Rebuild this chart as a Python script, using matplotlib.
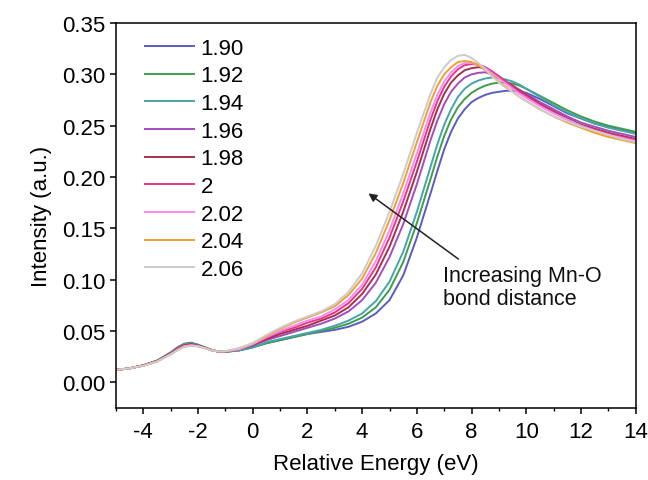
import matplotlib
matplotlib.use("Agg")
import matplotlib.pyplot as plt
from matplotlib.ticker import MultipleLocator, FormatStrFormatter

plt.rcParams['font.family'] = ['Liberation Sans', 'DejaVu Sans']
plt.rcParams['axes.unicode_minus'] = False

# Relative energy grid (eV); denser around the pre-edge and the white line
energy = [-5, -4.5, -4, -3.5, -3, -2.75, -2.5, -2.25, -2, -1.75, -1.5, -1.25, -1,
          -0.5, 0, 0.5, 1, 1.5, 2, 2.5, 3, 3.5, 4, 4.5, 5, 5.5, 6, 6.5,
          6.75, 7, 7.25, 7.5, 7.75, 8, 8.25, 8.5, 8.75, 9, 9.25, 9.5, 9.75, 10,
          10.5, 11, 11.5, 12, 12.5, 13, 13.5, 14]

# Mn-O bond distances (legend labels)
labels = ["1.90", "1.92", "1.94", "1.96", "1.98", "2", "2.02", "2.04", "2.06"]

colors = ["#5b5bc4", "#3d9e4a", "#45a5a8", "#a44cc0", "#a3324c",
          "#e8358a", "#f58cf0", "#f0a030", "#cccccc"]

# Simulated spectra, one per bond distance
i_190 = [0.012, 0.0135, 0.0165, 0.021, 0.029, 0.034, 0.0375, 0.0385, 0.0365, 0.034, 0.0315, 0.0298, 0.0296,
         0.031, 0.034, 0.038, 0.041, 0.044, 0.047, 0.049, 0.051, 0.054, 0.059, 0.067, 0.080, 0.104, 0.141, 0.184,
         0.206, 0.227, 0.244, 0.257, 0.266, 0.273, 0.277, 0.280, 0.282, 0.283, 0.284, 0.284, 0.2835, 0.282,
         0.276, 0.269, 0.262, 0.257, 0.252, 0.249, 0.246, 0.243]
i_192 = [0.012, 0.0135, 0.0165, 0.021, 0.0287, 0.0337, 0.0372, 0.0381, 0.0363, 0.0338, 0.0314, 0.0298, 0.0296,
         0.031, 0.034, 0.038, 0.041, 0.044, 0.047, 0.050, 0.053, 0.057, 0.063, 0.073, 0.090, 0.117, 0.155, 0.198,
         0.220, 0.240, 0.256, 0.268, 0.276, 0.282, 0.286, 0.289, 0.291, 0.292, 0.292, 0.291, 0.289, 0.286,
         0.279, 0.272, 0.265, 0.259, 0.254, 0.250, 0.247, 0.244]
i_194 = [0.012, 0.0135, 0.0164, 0.0208, 0.0284, 0.0334, 0.0368, 0.0377, 0.036, 0.0336, 0.0313, 0.0298, 0.0296,
         0.031, 0.034, 0.039, 0.042, 0.045, 0.048, 0.051, 0.055, 0.060, 0.067, 0.079, 0.098, 0.127, 0.166, 0.210,
         0.232, 0.251, 0.266, 0.278, 0.286, 0.291, 0.294, 0.296, 0.297, 0.2965, 0.295, 0.293, 0.290, 0.286,
         0.278, 0.270, 0.263, 0.257, 0.252, 0.248, 0.245, 0.242]
i_196 = [0.012, 0.0135, 0.0163, 0.0206, 0.0281, 0.033, 0.0363, 0.0372, 0.0357, 0.0335, 0.0312, 0.0298, 0.0297,
         0.032, 0.036, 0.041, 0.045, 0.049, 0.053, 0.057, 0.062, 0.069, 0.080, 0.097, 0.122, 0.154, 0.193, 0.236,
         0.255, 0.271, 0.283, 0.291, 0.297, 0.300, 0.3015, 0.302, 0.300, 0.297, 0.293, 0.289, 0.285, 0.281,
         0.273, 0.266, 0.259, 0.253, 0.249, 0.245, 0.242, 0.239]
i_198 = [0.012, 0.0135, 0.0163, 0.0205, 0.0279, 0.0326, 0.0359, 0.0368, 0.0355, 0.0334, 0.0311, 0.0299, 0.0298,
         0.032, 0.036, 0.042, 0.047, 0.051, 0.055, 0.060, 0.065, 0.073, 0.086, 0.105, 0.132, 0.166, 0.205, 0.247,
         0.266, 0.281, 0.292, 0.299, 0.304, 0.306, 0.307, 0.306, 0.302, 0.298, 0.293, 0.289, 0.284, 0.280,
         0.271, 0.264, 0.257, 0.251, 0.247, 0.243, 0.240, 0.237]
i_200 = [0.012, 0.0135, 0.0162, 0.0204, 0.0276, 0.0322, 0.0354, 0.0364, 0.0353, 0.0333, 0.0311, 0.0299, 0.0299,
         0.032, 0.037, 0.043, 0.049, 0.053, 0.058, 0.062, 0.068, 0.077, 0.091, 0.112, 0.141, 0.176, 0.215, 0.256,
         0.274, 0.288, 0.298, 0.305, 0.309, 0.310, 0.3095, 0.307, 0.303, 0.298, 0.293, 0.288, 0.283, 0.279,
         0.270, 0.263, 0.256, 0.250, 0.246, 0.242, 0.239, 0.236]
i_202 = [0.012, 0.0135, 0.0161, 0.0203, 0.0274, 0.0318, 0.035, 0.036, 0.0351, 0.0332, 0.031, 0.0299, 0.030,
         0.032, 0.037, 0.044, 0.050, 0.055, 0.060, 0.064, 0.071, 0.080, 0.095, 0.118, 0.148, 0.184, 0.223, 0.263,
         0.280, 0.293, 0.302, 0.308, 0.311, 0.311, 0.309, 0.306, 0.301, 0.296, 0.291, 0.286, 0.281, 0.277,
         0.269, 0.262, 0.256, 0.250, 0.245, 0.241, 0.238, 0.235]
i_204 = [0.012, 0.0135, 0.016, 0.0201, 0.0272, 0.0314, 0.0347, 0.0357, 0.035, 0.0331, 0.031, 0.030, 0.0301,
         0.033, 0.038, 0.045, 0.052, 0.058, 0.063, 0.068, 0.074, 0.085, 0.101, 0.126, 0.158, 0.194, 0.234, 0.273,
         0.289, 0.300, 0.307, 0.312, 0.313, 0.312, 0.309, 0.304, 0.299, 0.293, 0.288, 0.283, 0.278, 0.274,
         0.266, 0.259, 0.253, 0.248, 0.243, 0.239, 0.236, 0.233]
i_206 = [0.012, 0.0135, 0.016, 0.020, 0.027, 0.031, 0.0345, 0.0355, 0.035, 0.033, 0.031, 0.030, 0.0302,
         0.033, 0.038, 0.046, 0.053, 0.059, 0.064, 0.069, 0.076, 0.088, 0.106, 0.133, 0.166, 0.203, 0.243, 0.281,
         0.297, 0.307, 0.314, 0.318, 0.319, 0.316, 0.311, 0.305, 0.298, 0.292, 0.287, 0.283, 0.278, 0.274,
         0.266, 0.259, 0.254, 0.249, 0.245, 0.241, 0.237, 0.234]

spectra = [i_190, i_192, i_194, i_196, i_198, i_200, i_202, i_204, i_206]

fig = plt.figure(figsize=(6.48, 4.81), dpi=100)
ax = fig.add_axes([0.179, 0.150, 0.802, 0.800])

for y, lab, c in zip(spectra, labels, colors):
    ax.plot(energy, y, color=c, lw=1.4, label=lab, solid_joinstyle='round')

ax.set_xlim(-5, 14)
ax.set_ylim(-0.025, 0.35)
ax.xaxis.set_major_locator(MultipleLocator(2))
ax.xaxis.set_minor_locator(MultipleLocator(1))
ax.yaxis.set_major_locator(MultipleLocator(0.05))
ax.yaxis.set_major_formatter(FormatStrFormatter('%.2f'))

for s in ax.spines.values():
    s.set_linewidth(1.1)
ax.tick_params(axis='both', which='major', direction='out', length=4.5, width=1.1,
               labelsize=16)
ax.tick_params(axis='x', which='major', pad=5)
ax.tick_params(axis='y', which='major', pad=3)
ax.tick_params(axis='x', which='minor', direction='out', length=2.5, width=1.0)

ax.set_xlabel("Relative Energy (eV)", fontsize=16, labelpad=8)
ax.set_ylabel("Intensity (a.u.)", fontsize=16, labelpad=7)

leg = ax.legend(loc='upper left', bbox_to_anchor=(0.056, 0.962), frameon=False,
                fontsize=16, handlelength=2.2, handletextpad=0.3,
                labelspacing=0.3, borderpad=0, borderaxespad=0)

ax.annotate("", xy=(4.23, 0.184), xytext=(7.52, 0.120),
            arrowprops=dict(arrowstyle="-|>", color="#222222", lw=1.1,
                            mutation_scale=12, shrinkA=0, shrinkB=0))
ax.text(6.96, 0.0926, "Increasing Mn-O\nbond distance", fontsize=15.5,
        ha='left', va='center', color="#111111", linespacing=1.1)

fig.savefig("out.png", dpi=100)
